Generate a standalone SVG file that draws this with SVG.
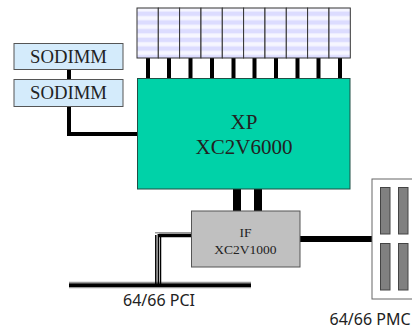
<svg xmlns="http://www.w3.org/2000/svg" width="412" height="330" viewBox="0 0 412 330">
<style>
.s{font-family:"Liberation Serif","Times New Roman",serif;fill:#222;text-anchor:middle}
.l{font-family:"Noto Sans","DejaVu Sans",sans-serif;font-size:16px;fill:#222;text-anchor:middle}
.m{fill:url(#st);stroke:#333;stroke-width:1}
.so{fill:#d4ebfb;stroke:#555;stroke-width:1}
.slot{fill:#808080;stroke:#444;stroke-width:1}
.k{fill:none;stroke:#000;stroke-width:4}
.t{fill:none;stroke:#000;stroke-width:1.500}
</style>
<defs>
<pattern id="st" patternUnits="userSpaceOnUse" x="0" y="8" width="10" height="8.7">
<rect width="10" height="8.7" fill="#f6f6ff"/>
<rect y="3.500" width="10" height="4.500" fill="#dcdcff"/>
</pattern>
</defs>
<g id="connectors">
<path class="k" d="M148 57V78M169 57V78M190.500 57V78M212 57V78M233.500 57V78M254.500 57V78M276 57V78M297.500 57V78M318.500 57V78M340 57V78"/>
<path class="k" d="M69 69V80M69 106V134H137"/>
<path d="M237 189V211M258 189V211" fill="none" stroke="#000" stroke-width="8"/>
<path d="M300 239H372" fill="none" stroke="#000" stroke-width="6"/>
<path d="M69 285H251" fill="none" stroke="#999" stroke-width="6.500"/>
<path d="M69 285.300H251" fill="none" stroke="#000" stroke-width="3.500"/>
<path d="M155 232.800H191" fill="none" stroke="#999" stroke-width="1.500"/>
<path d="M159 235.500H191" fill="none" stroke="#000" stroke-width="3.500"/>
<path d="M155.800 285V235" class="t"/>
<path d="M158.300 285V234" class="t"/>
<path d="M160.500 285V235.500" class="t"/>
</g>
<g id="memory">
<rect class="m" x="137" y="8" width="21.300" height="50"/>
<rect class="m" x="158.300" y="8" width="21.300" height="50"/>
<rect class="m" x="179.600" y="8" width="21.300" height="50"/>
<rect class="m" x="201" y="8" width="21.300" height="50"/>
<rect class="m" x="222.300" y="8" width="21.300" height="50"/>
<rect class="m" x="243.600" y="8" width="21.300" height="50"/>
<rect class="m" x="265" y="8" width="21.300" height="50"/>
<rect class="m" x="286.300" y="8" width="21.300" height="50"/>
<rect class="m" x="307.600" y="8" width="21.300" height="50"/>
<rect class="m" x="329" y="8" width="21.300" height="50"/>
</g>
<g id="sodimm1"><rect class="so" x="14" y="43.500" width="109" height="26"/><text class="s" x="68.500" y="63" font-size="18.700">SODIMM</text></g>
<g id="sodimm2"><rect class="so" x="14" y="79.500" width="109" height="27"/><text class="s" x="68.500" y="99" font-size="18.700">SODIMM</text></g>
<g id="xp"><rect x="137.500" y="78.500" width="212.500" height="110.500" fill="#00d2a8" stroke="#1f4f45"/>
<text class="s" x="244" y="129" font-size="21">XP</text><text class="s" x="244" y="154" font-size="21">XC2V6000</text></g>
<g id="if"><rect x="191.500" y="211" width="108.500" height="56" fill="#c0c0c0" stroke="#555"/>
<text class="s" x="245.500" y="237" font-size="13.500">IF</text><text class="s" x="245.500" y="253.500" font-size="13.500">XC2V1000</text></g>
<g id="pmc"><rect x="372" y="179" width="44" height="120" fill="#fff" stroke="#666"/>
<rect class="slot" x="380.500" y="187.500" width="9.500" height="46.500"/>
<rect class="slot" x="398.500" y="187.500" width="9.500" height="46.500"/>
<rect class="slot" x="380.500" y="243.500" width="9.500" height="46.500"/>
<rect class="slot" x="398.500" y="243.500" width="9.500" height="46.500"/></g>
<text class="l" x="159" y="306">64/66 PCI</text>
<text class="l" x="370" y="325">64/66 PMC</text>
</svg>
